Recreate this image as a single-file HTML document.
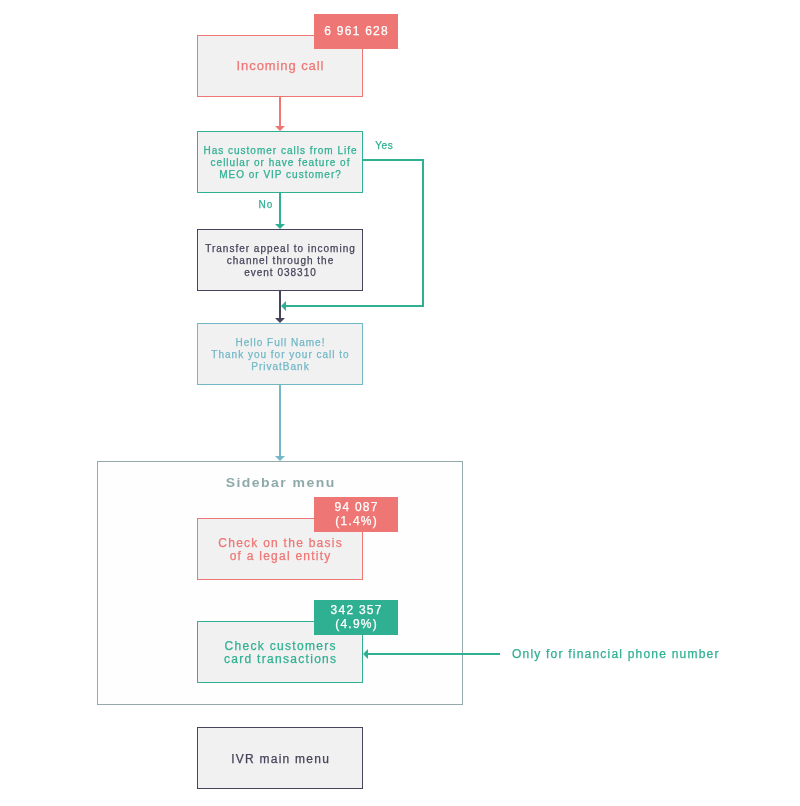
<!DOCTYPE html>
<html><head><meta charset="utf-8">
<style>
html,body{margin:0;padding:0;background:#fff;}
body{width:800px;height:806px;position:relative;overflow:hidden;will-change:transform;-webkit-text-stroke:0.25px currentColor;font-family:"Liberation Sans",sans-serif;}
.box{position:absolute;box-sizing:border-box;width:166px;height:62px;left:197px;background:#f1f1f1;border:1px solid;display:flex;align-items:center;justify-content:center;text-align:center;}
.box span,.badge span,.ttl span{display:block;letter-spacing:var(--ls);margin-right:calc(-1 * var(--ls));position:relative;}
.t13{font-size:13px;--ls:0.92px;line-height:14px;}
.t12{font-size:12px;--ls:1.25px;line-height:13px;}
.t12 span,.t10 span{top:1px;}
.t10{font-size:10px;--ls:1px;line-height:12px;}
.red{color:#ee7674;border-color:#ee7674;}
.green{color:#30b093;border-color:#30b093;}
.dark{color:#46445a;border-color:#46445a;}
.blue{color:#72b8c7;border-color:#72b8c7;}
.badge{position:absolute;left:314px;width:84px;height:34px;padding-bottom:1px;color:#fff;font-size:12px;--ls:1.25px;line-height:14px;display:flex;align-items:center;justify-content:center;text-align:center;}
.lbl{position:absolute;font-size:10px;letter-spacing:1px;line-height:12px;color:#30b093;white-space:nowrap;}
svg{position:absolute;left:0;top:0;}
</style></head><body>
<div style="position:absolute;left:97px;top:461px;width:366px;height:244px;box-sizing:border-box;border:1px solid #95a9ad;background:#fefefe;"></div>
<div class="ttl" style="position:absolute;left:97px;top:474px;width:366px;text-align:center;font-size:14px;font-weight:bold;--ls:1.45px;line-height:16px;color:#8fa9ab;-webkit-text-stroke:0;transform:scaleY(0.96);transform-origin:50% 75%;"><span>Sidebar menu</span></div>

<div class="box red t13" style="top:35px;"><span>Incoming call</span></div>
<div class="badge" style="top:14px;background:#ee7674;"><span>6 961 628</span></div>

<div class="box green t10" style="top:131px;"><span>Has customer calls from Life<br>cellular or have feature of<br>MEO or VIP customer?</span></div>
<div class="lbl" style="left:375.3px;top:140px;letter-spacing:0.55px;">Yes</div>
<div class="lbl" style="left:258.6px;top:199px;">No</div>

<div class="box dark t10" style="top:229px;"><span>Transfer appeal to incoming<br>channel through the<br>event 038310</span></div>

<div class="box blue t10" style="top:323px;"><span>Hello Full Name!<br>Thank you for your call to<br>PrivatBank</span></div>

<div class="box red t12" style="top:518px;"><span>Check on the basis<br>of a legal entity</span></div>
<div class="badge" style="top:497px;background:#ee7674;"><span>94 087<br>(1.4%)</span></div>

<div class="box green t12" style="top:621px;--ls:1.3px;"><span>Check customers<br>card transactions</span></div>
<div class="badge" style="top:600px;background:#30b093;"><span>342 357<br>(4.9%)</span></div>

<div class="lbl" style="left:512px;top:647px;font-size:12px;letter-spacing:1.21px;line-height:14px;">Only for financial phone number</div>

<div class="box dark t12" style="top:727px;"><span>IVR main menu</span></div>

<svg width="800" height="806" viewBox="0 0 800 806">
  <!-- red arrow -->
  <line x1="280" y1="97" x2="280" y2="127" stroke="#ee7674" stroke-width="2"/>
  <polygon points="275,126 285,126 280,131" fill="#ee7674"/>
  <!-- green No arrow -->
  <line x1="280" y1="193" x2="280" y2="225" stroke="#30b093" stroke-width="2"/>
  <polygon points="275,224 285,224 280,229" fill="#30b093"/>
  <!-- yes path -->
  <polyline points="363,160 423,160 423,306 285,306" fill="none" stroke="#30b093" stroke-width="2"/>
  <polygon points="286,301 286,311 281,306" fill="#30b093"/>
  <!-- dark arrow -->
  <line x1="280" y1="291" x2="280" y2="319" stroke="#46445a" stroke-width="2"/>
  <polygon points="275,318 285,318 280,323" fill="#46445a"/>
  <!-- blue arrow -->
  <line x1="280" y1="385" x2="280" y2="457" stroke="#72b8c7" stroke-width="2"/>
  <polygon points="275,456 285,456 280,461" fill="#72b8c7"/>
  <!-- only-for arrow -->
  <line x1="500" y1="654" x2="367" y2="654" stroke="#30b093" stroke-width="2"/>
  <polygon points="368,649 368,659 363,654" fill="#30b093"/>
</svg>
</body></html>
